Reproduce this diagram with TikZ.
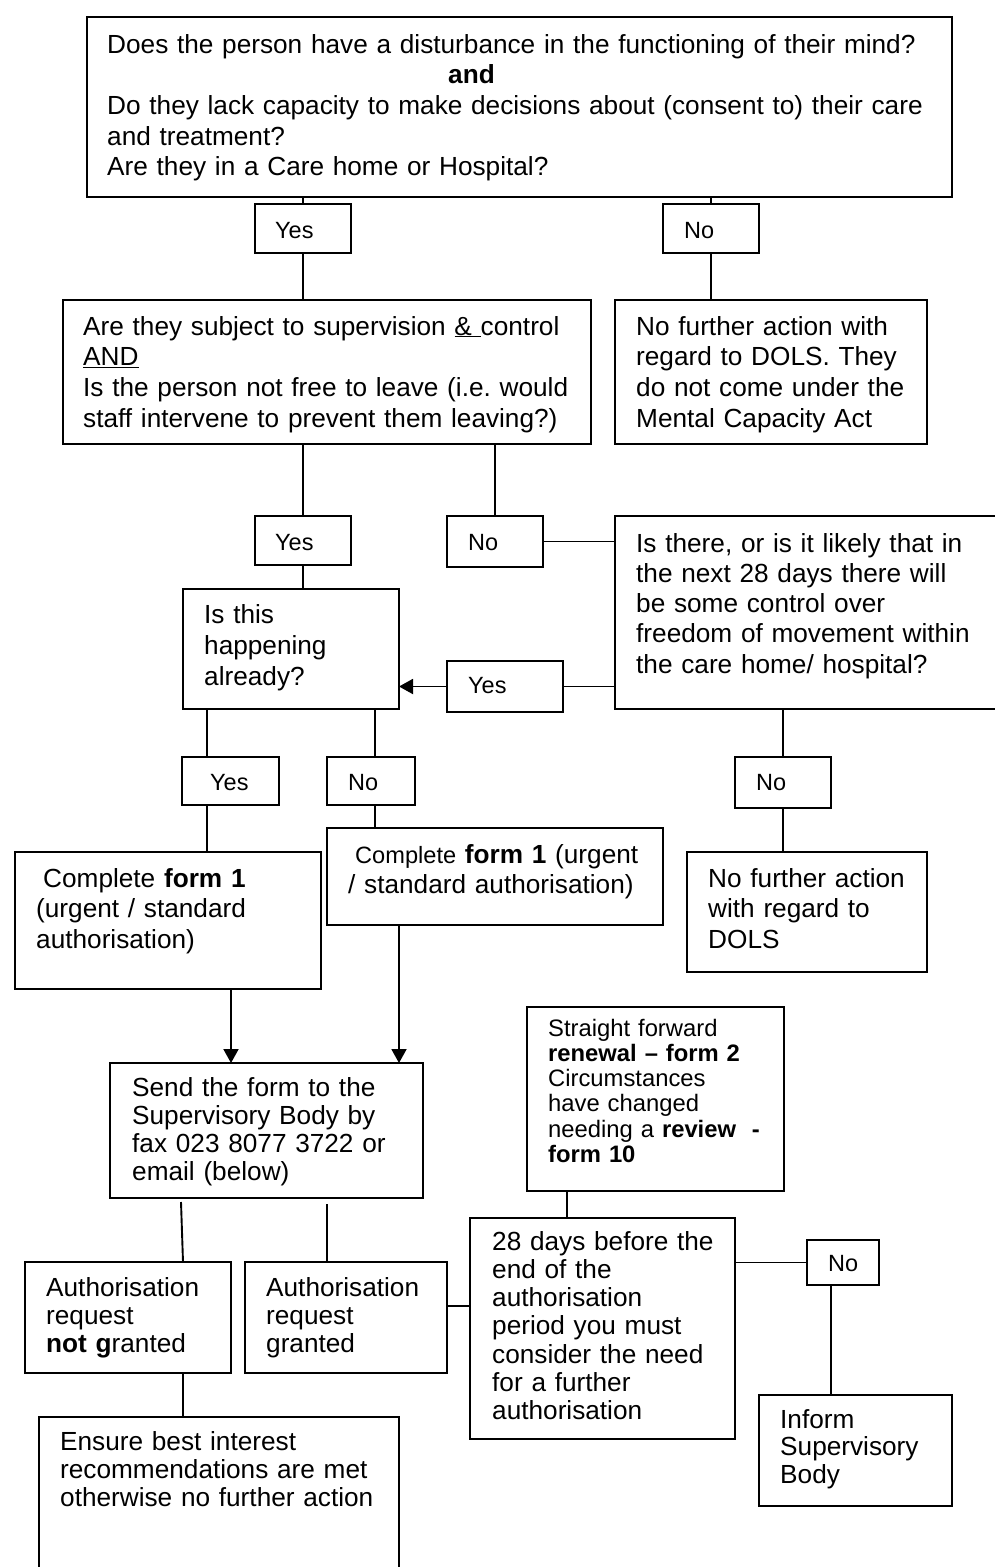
\documentclass[tikz,border=0pt]{standalone}
\usepackage{fontspec}
\setmainfont{Liberation Sans}
\usetikzlibrary{arrows.meta}
\AtBeginDocument{\frenchspacing}
\newcommand\bodyfont[1]{\fontsize{26.2}{#1}\selectfont}
\begin{document}
\begin{tikzpicture}[x=1pt,y=-1pt,
  box/.style={draw=black,line width=2pt,anchor=north west,inner sep=0pt,outer sep=0pt},
  conn/.style={line width=1.9pt},
  arr/.style={conn,-{Triangle[length=14pt,width=15pt]}},
  txt/.style={anchor=base west,inner sep=0pt,align=left,text width=950pt},
  lab/.style={anchor=base west,inner sep=0pt,font=\fontsize{23.5}{28}\selectfont}
]
\useasboundingbox[fill=white] (0,0) rectangle (995,1567);

% ---------- boxes ----------
\node[box,minimum width=865pt,minimum height=180pt] (top) at (87,17) {};
\node[box,minimum width=96pt,minimum height=49pt] (yes1) at (255,204) {};
\node[box,minimum width=96pt,minimum height=49pt] (no1) at (663,204) {};
\node[box,minimum width=528pt,minimum height=144pt] (b2) at (63,300) {};
\node[box,minimum width=312pt,minimum height=144pt] (b3) at (615,300) {};
\node[box,minimum width=96pt,minimum height=49pt] (yes2) at (255,516) {};
\node[box,minimum width=96pt,minimum height=51pt] (no2) at (447,516) {};
\node[box,minimum width=400pt,minimum height=193pt] (there) at (615,516) {};
\node[box,minimum width=216pt,minimum height=120pt] (isthis) at (183,589) {};
\node[box,minimum width=116pt,minimum height=51pt] (yes3) at (447,661) {};
\node[box,minimum width=97pt,minimum height=48pt] (yes4) at (182,757) {};
\node[box,minimum width=88pt,minimum height=48pt] (no4) at (327,757) {};
\node[box,minimum width=96pt,minimum height=51pt] (no5) at (735,757) {};
\node[box,minimum width=306pt,minimum height=137pt] (c1) at (15,852) {};
\node[box,minimum width=336pt,minimum height=97pt] (c2) at (327,828) {};
\node[box,minimum width=240pt,minimum height=120pt] (nf2) at (687,852) {};
\node[box,minimum width=313pt,minimum height=135pt] (send) at (110,1063) {};
\node[box,minimum width=257pt,minimum height=184pt] (sf) at (527,1007) {};
\node[box,minimum width=265pt,minimum height=221pt] (d28) at (470,1218) {};
\node[box,minimum width=206pt,minimum height=111pt] (nog) at (25,1262) {};
\node[box,minimum width=202pt,minimum height=111pt] (gr) at (245,1262) {};
\node[box,minimum width=72pt,minimum height=45pt] (no6) at (807,1240) {};
\node[box,minimum width=193pt,minimum height=111pt] (inform) at (759,1395) {};
\node[box,minimum width=360pt,minimum height=175pt] (ensure) at (39,1417) {};

% ---------- texts ----------
\node[txt,font=\bodyfont{30.7}] (ttop) at (107,53) {Does the person have a disturbance in the functioning of their mind?\\
\hspace*{341pt}\textbf{and}\\
Do they lack capacity to make decisions about (consent to) their care\\
and treatment?\\
Are they in a Care home or Hospital?};
\node[lab] (tyes1) at (275,238) {Yes};
\node[lab] (tno1) at (684,238) {No};
\node[txt,font=\bodyfont{30.7}] (tb2) at (83,335) {Are they subject to supervision \underline{\&~}control\\
\underline{AND}\\
Is the person not free to leave (i.e. would\\
staff intervene to prevent them leaving?)};
\node[txt,font=\bodyfont{30.7}] (tb3) at (636,335) {No further action with\\
regard to DOLS. They\\
do not come under the\\
Mental Capacity Act};
\node[lab] (tyes2) at (275,550) {Yes};
\node[lab] (tno2) at (468,550) {No};
\node[txt,font=\bodyfont{30.3}] (tthere) at (636,552) {Is there, or is it likely that in\\
the next 28 days there will\\
be some control over\\
freedom of movement within\\
the care home/ hospital?};
\node[txt,font=\bodyfont{31}] (tisthis) at (204,623) {Is this\\
happening\\
already?};
\node[lab] (tyes3) at (468,693) {Yes};
\node[lab] (tyes4) at (210,790) {Yes};
\node[lab] (tno4) at (348,790) {No};
\node[lab] (tno5) at (756,790) {No};
\node[txt,font=\bodyfont{30.5}] (tc1) at (36,887) {\hspace*{7pt}Complete \textbf{form 1}\\
(urgent / standard\\
authorisation)};
\node[txt,font=\bodyfont{30}] (tc2) at (348,863) {\hspace*{7pt}{\fontsize{23.6}{30}\selectfont Complete} \textbf{form 1} (urgent\\
/ standard authorisation)};
\node[txt,font=\bodyfont{30.5}] (tnf2) at (708,887) {No further action\\
with regard to\\
DOLS};
\node[txt,font=\bodyfont{28}] (tsend) at (132,1096) {Send the form to the\\
Supervisory Body by\\
fax 023 8077 3722 or\\
email (below)};
\node[txt,font=\fontsize{23.8}{25.3}\selectfont] (tsf) at (548,1036) {Straight forward\\
\textbf{renewal -- form 2}\\
Circumstances\\
have changed\\
needing a \textbf{review\ \ -}\\
\textbf{form 10}};
\node[txt,font=\bodyfont{28.3}] (td28) at (492,1250) {28 days before the\\
end of the\\
authorisation\\
period you must\\
consider the need\\
for a further\\
authorisation};
\node[txt,font=\bodyfont{28}] (tnog) at (46,1296) {Authorisation\\
request\\
\textbf{not g}ranted};
\node[txt,font=\bodyfont{28}] (tgr) at (266,1296) {Authorisation\\
request\\
granted};
\node[lab] (tno6) at (828,1271) {No};
\node[txt,font=\bodyfont{27.5}] (tinform) at (780,1428) {Inform\\
Supervisory\\
Body};
\node[txt,font=\bodyfont{28}] (tensure) at (60,1450) {Ensure best interest\\
recommendations are met\\
otherwise no further action};

% ---------- connectors ----------
\draw[conn] (top.south -| yes1.north) -- (yes1.north);
\draw[conn] (top.south -| no1.north) -- (no1.north);
\draw[conn] (yes1.south) -- (yes1.south |- b2.north);
\draw[conn] (no1.south) -- (no1.south |- b3.north);
\draw[conn] (b2.south -| yes2.north) -- (yes2.north);
\draw[conn] (b2.south -| no2.north) -- (no2.north);
\draw[conn] (yes2.south) -- (yes2.south |- isthis.north);
\draw[conn] (no2.east) -- (no2.east -| there.west);
\draw[arr] (yes3.west) -- (yes3.west -| isthis.east);
\draw[conn] (yes3.east -| there.west) -- (yes3.east);
\draw[conn] (there.south -| no5.north) -- (no5.north);
\draw[conn] (no5.south) -- (no5.south |- nf2.north);

\coordinate (i1) at ([xshift=24pt]isthis.south west);
\coordinate (i2) at ([xshift=192pt]isthis.south west);
\draw[conn] (i1) -- (i1 |- yes4.north);
\draw[conn] (i1 |- yes4.south) -- (i1 |- c1.north);
\draw[conn] (i2) -- (i2 |- no4.north);
\draw[conn] (i2 |- no4.south) -- (i2 |- c2.north);

\coordinate (a1) at ([xshift=216pt]c1.south west);
\coordinate (a2) at ([xshift=72pt]c2.south west);
\draw[arr] (a1) -- (a1 |- send.north);
\draw[arr] (a2) -- (a2 |- send.north);

\coordinate (sA) at ([shift={(71,4)}]send.south west);
\coordinate (sB) at ([shift={(217,6)}]send.south west);
\draw[conn] (sA) -- ([xshift=158pt]nog.north west);
\draw[conn] (sB) -- (sB |- gr.north);

\coordinate (g1) at ([yshift=-44pt]gr.north east);
\draw[conn] (g1) -- (g1 -| d28.west);

\coordinate (s3) at ([xshift=40pt]sf.south west);
\draw[conn] (s3) -- (s3 |- d28.north);
\draw[conn] (no6.west -| d28.east) -- (no6.west);
\coordinate (n6) at ([xshift=24pt]no6.south west);
\draw[conn] (n6) -- (n6 |- inform.north);
\coordinate (n7) at ([xshift=158pt]nog.south west);
\draw[conn] (n7) -- (n7 |- ensure.north);
\end{tikzpicture}
\end{document}
